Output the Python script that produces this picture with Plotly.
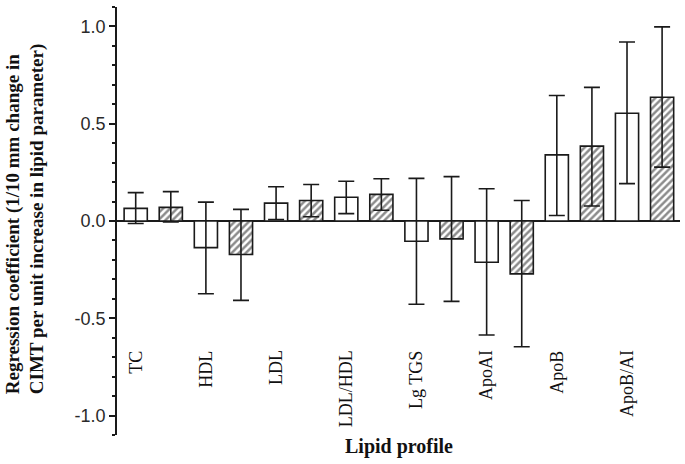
import plotly.graph_objects as go

# ---- data ----
categories = ["TC", "HDL", "LDL", "LDL/HDL", "Lg TGS", "ApoAI", "ApoB", "ApoB/AI"]

# open (white) bars
white_coef = [0.065, -0.137, 0.092, 0.122, -0.104, -0.212, 0.340, 0.554]
white_lo   = [-0.013, -0.374, 0.007, 0.038, -0.428, -0.586, 0.028, 0.192]
white_hi   = [0.146, 0.097, 0.176, 0.204, 0.219, 0.166, 0.645, 0.920]

# hatched bars
hatch_coef = [0.070, -0.172, 0.105, 0.137, -0.092, -0.272, 0.385, 0.636]
hatch_lo   = [-0.005, -0.408, 0.022, 0.055, -0.413, -0.646, 0.077, 0.277]
hatch_hi   = [0.151, 0.060, 0.188, 0.217, 0.228, 0.105, 0.687, 0.998]

y_tick_vals = [-1.0, -0.5, 0.0, 0.5, 1.0]
y_tick_text = ["-1.0", "-0.5", "0.0", "0.5", "1.0"]

# ---- positions: each category has a white bar then a hatched bar ----
n = len(categories)
x_white = [2 * i for i in range(n)]
x_hatch = [2 * i + 1 for i in range(n)]

ink = "#1a1a1a"

def err(c, lo, hi):
    return dict(type="data", symmetric=False,
                array=[h - v for v, h in zip(c, hi)],
                arrayminus=[v - l for v, l in zip(c, lo)],
                color=ink, thickness=1.6, width=8)

fig = go.Figure()
fig.add_trace(go.Bar(
    x=x_white, y=white_coef, width=0.66,
    marker=dict(color="white", line=dict(color=ink, width=1.6)),
    error_y=err(white_coef, white_lo, white_hi), showlegend=False))
fig.add_trace(go.Bar(
    x=x_hatch, y=hatch_coef, width=0.66,
    marker=dict(color="white", line=dict(color=ink, width=1.6),
                pattern=dict(shape="/", fgcolor=ink, bgcolor="white",
                             size=5, solidity=0.5)),
    error_y=err(hatch_coef, hatch_lo, hatch_hi), showlegend=False))

annotations = []
for xi, lab in zip(x_white, categories):
    annotations.append(dict(
        x=xi, y=-0.655, xref="x", yref="y", text=lab, showarrow=False,
        textangle=-90, xanchor="center", yanchor="top",
        font=dict(family="Liberation Serif", size=18, color="#111")))

annotations.append(dict(
    x=-0.1625, y=0.503, xref="paper", yref="paper",
    text="<b>Regression coefficient (1/10 mm change in<br>CIMT per unit increase in lipid parameter)</b>",
    showarrow=False, textangle=-90, align="left",
    xanchor="center", yanchor="middle",
    font=dict(family="Liberation Serif", size=19, color="#111")))

annotations.append(dict(
    x=(398.5 - 117) / 563, y=-0.028, xref="paper", yref="paper",
    text="<b>Lipid profile</b>", showarrow=False,
    xanchor="center", yanchor="middle",
    font=dict(family="Liberation Serif", size=20, color="#111")))

fig.update_layout(
    width=685, height=464,
    margin=dict(l=117, r=5, t=7, b=29),
    paper_bgcolor="white", plot_bgcolor="white",
    barmode="overlay",
    annotations=annotations,
    xaxis=dict(visible=False, range=[-0.533, 15.51]),
    yaxis=dict(
        range=[-1.1, 1.1],
        tickmode="array", tickvals=y_tick_vals, ticktext=y_tick_text,
        ticks="outside", ticklen=6, tickwidth=1.5, tickcolor=ink,
        showline=True, linecolor=ink, linewidth=1.6,
        showgrid=False,
        zeroline=True, zerolinecolor=ink, zerolinewidth=1.6,
        tickfont=dict(family="Liberation Sans", size=18, color="#2a2a2a"),
        minor=dict(tickmode="linear", tick0=0, dtick=0.1, ticks="outside",
                   ticklen=3, tickwidth=1.5, tickcolor=ink, showgrid=False),
    ),
)

fig.write_html("out.html",
               config={"displayModeBar": False},
               post_script="document.body.style.margin='0';document.body.style.overflow='hidden';")
